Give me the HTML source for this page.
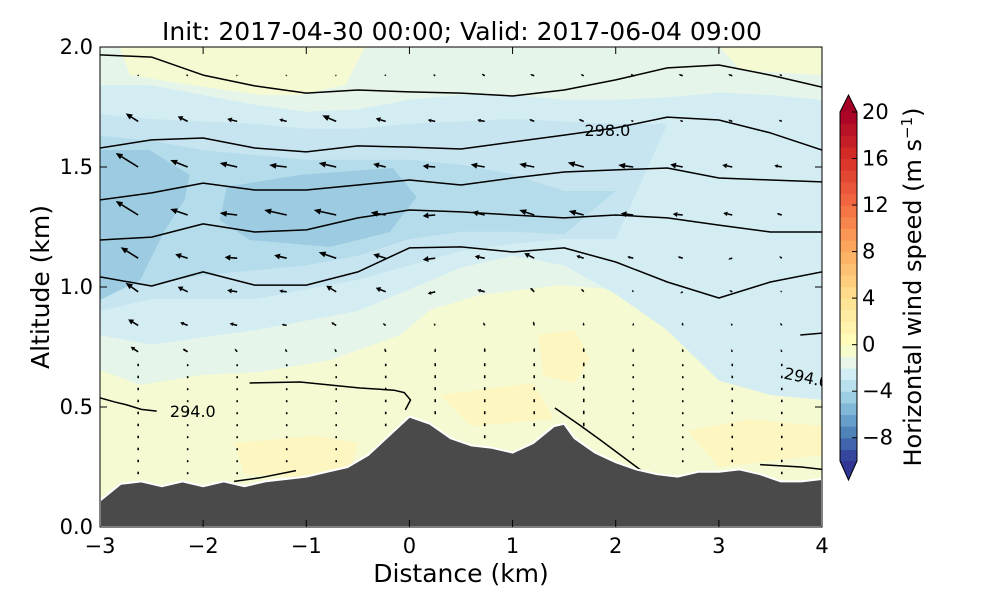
<!DOCTYPE html>
<html><head><meta charset="utf-8"><style>
body{margin:0;background:#fff;}
svg text{font-family:"DejaVu Sans","Liberation Sans",sans-serif;}
</style></head><body>
<svg id="c" width="1000" height="600" viewBox="0 0 1000 600" xmlns="http://www.w3.org/2000/svg">
<defs><clipPath id="pc"><rect x="100" y="47" width="722" height="480"/></clipPath></defs>
<rect width="1000" height="600" fill="#fff"/>
<g id="plot" clip-path="url(#pc)"></g>
<g id="axes"></g>
<g id="cbar"></g>
<text x="462" y="40" font-size="25" text-anchor="middle">Init: 2017-04-30 00:00; Valid: 2017-06-04 09:00</text>
<text x="461" y="582" font-size="25" text-anchor="middle">Distance (km)</text>
<text transform="translate(49,287) rotate(-90)" font-size="25" text-anchor="middle">Altitude (km)</text>
<text transform="translate(921,287) rotate(-90)" font-size="24" text-anchor="middle">Horizontal wind speed (m s<tspan dy="-9" font-size="15">−1</tspan><tspan dy="9">)</tspan></text>
</svg>
<script>
const knots=[-3,-2.5,-2,-1.5,-1,-0.5,0,0.5,1,1.5,2,2.5,3,3.5,4];
const band1Upper=[1.84,1.84,1.80,1.76,1.73,1.74,1.78,1.80,1.80,1.78,1.78,1.79,1.81,1.80,1.78];
const band1Lower=[0.80,0.76,0.79,0.82,0.86,0.90,0.99,1.08,1.13,1.09,0.97,0.82,0.61,0.55,0.53];
const band2Upper=[1.72,1.70,1.69,1.68,1.66,1.66,1.68,1.69,1.70,1.69,1.68,1.68,1.66,1.65,1.65];
const band2Lower=[0.90,0.95,0.95,0.95,0.99,1.03,1.09,1.15,1.18,1.20,1.20,1.68,1.66,1.65,1.65];
const band3Upper=[1.63,1.61,1.57,1.55,1.53,1.53,1.53,1.51,1.47,1.40,1.40,1.40,1.40,1.40,1.40];
const band3Lower=[0.99,1.01,1.05,1.07,1.09,1.13,1.20,1.23,1.23,1.22,1.40,1.40,1.40,1.40,1.40];
const yellowTopLeft=[[-3.0,2.0],[-2.81,2.0],[-2.71,1.883],[-2.13,1.842],[-1.45,1.80],[-1.06,1.80],[-0.62,1.842],[-0.43,2.0]];
const yellowTopRight=[[3.01,2.0],[3.21,1.904],[4,1.883],[4,2.0]];
const yellowBottom=[[-3,0.654],[-2.61,0.592],[-2.03,0.633],[-1.45,0.646],[-0.77,0.696],[-0.09,0.8],[0.2,0.904],[0.68,0.967],[1.46,1.008],[2.04,0.988],[2.53,0.946],[2.82,0.82],[3.11,0.633],[3.5,0.55],[4,0.529],[4,0],[-3,0]];
const yellowSpots=[[[1.25,0.8],[1.6,0.82],[1.75,0.7],[1.6,0.6],[1.3,0.63]],[[-1.7,0.35],[-0.9,0.38],[-0.5,0.35],[-0.6,0.2],[-1.6,0.22]],[[2.7,0.4],[3.3,0.45],[4,0.42],[4,0.3],[3.0,0.25]],[[0.3,0.55],[1.2,0.6],[1.4,0.45],[0.6,0.42]]];
const band4Left=[[-3,1.571],[-2.52,1.571],[-2.13,1.467],[-2.18,1.363],[-2.37,1.238],[-2.61,1.029],[-3,0.946]];
const band4Mid=[[-1.84,1.279],[-1.77,1.417],[-1.06,1.467],[-0.16,1.496],[0.07,1.375],[-0.19,1.229],[-0.77,1.167],[-1.55,1.196]];
const theta1=[1.967,1.958,1.883,1.838,1.808,1.821,1.813,1.808,1.796,1.821,1.863,1.913,1.925,1.883,1.833];
const theta2=[1.579,1.613,1.621,1.579,1.563,1.588,1.583,1.575,1.604,1.633,1.663,1.708,1.696,1.642,1.571];
const theta3=[1.363,1.392,1.433,1.404,1.404,1.425,1.446,1.425,1.454,1.479,1.488,1.496,1.454,1.446,1.438];
const theta4=[1.196,1.208,1.263,1.229,1.238,1.288,1.321,1.313,1.300,1.288,1.300,1.288,1.258,1.229,1.229];
const theta5=[1.042,1.004,1.063,1.008,1.008,1.063,1.163,1.167,1.146,1.163,1.104,1.021,0.954,1.021,1.063];
const thetaPieces=[[[-3,0.538],[-2.85,0.52],[-2.75,0.51],[-2.6,0.49],[-2.45,0.483]],[[-1.55,0.6],[-1.06,0.604],[-0.48,0.579],[-0.15,0.57],[-0.05,0.56],[0.01,0.529],[-0.04,0.488]],[[1.41,0.496],[1.65,0.425],[1.85,0.363],[2.24,0.238]],[[3.79,0.8],[4,0.808]],[[-1.7,0.19],[-1.45,0.205],[-1.1,0.235]],[[3.4,0.26],[3.8,0.25],[4,0.24]]];
const terrainX=[-3,-2.8,-2.6,-2.4,-2.2,-2,-1.8,-1.6,-1.4,-1.2,-1,-0.8,-0.6,-0.4,-0.2,0,0.2,0.4,0.6,0.8,1,1.2,1.4,1.5,1.6,1.8,2,2.2,2.4,2.6,2.8,3,3.2,3.4,3.6,3.8,4];
const terrainZ=[0.11,0.18,0.19,0.17,0.19,0.17,0.19,0.17,0.19,0.2,0.21,0.23,0.25,0.3,0.38,0.46,0.43,0.37,0.34,0.33,0.31,0.35,0.42,0.43,0.37,0.31,0.27,0.24,0.22,0.21,0.23,0.23,0.24,0.22,0.19,0.19,0.2];
const arrowCols=[-2.63,-2.15,-1.67,-1.19,-0.71,-0.23,0.25,0.73,1.21,1.69,2.17,2.65,3.13,3.61];
const arrowRows=[1.88,1.69,1.50,1.30,1.12,0.98,0.84,0.73];
const uRows=[
[0,-0.3,-0.2,-0.2,-0.2,-0.2,-0.4,-0.6,-0.8,-0.6,-0.5,-0.8,-0.8,-0.5],
[-2.5,-2,-2,-1.5,-2.8,-2,-1.5,-1.5,-1.0,-1.0,-0.5,-0.6,-0.8,-0.6],
[-4.5,-3.5,-3.5,-3.5,-3.5,-2.5,-2.5,-2.8,-3,-3.2,-3,-2.5,-2,-1.5],
[-4.5,-3.5,-3.5,-4.5,-4.5,-3,-2.5,-2.5,-3,-3,-2.5,-2,-1.8,-1],
[-3.5,-2.5,-2.5,-2.5,-3.5,-2.5,-2.5,-2,-2,-1.5,-1.2,-1,-0.8,-0.5],
[-2.5,-2,-2,-1.5,-2,-2,-1.5,-1.5,-0.8,-0.5,-0.2,-0.5,-0.6,-0.3],
[-2,-1.5,-1.5,-1,-1,-0.6,-0.3,-0.3,-0.2,-0.1,0,-0.1,-0.3,-0.3],
[-1.5,-1,-0.5,-0.3,-0.3,-0.2,0,0,0,0,0,0,-0.2,-0.2]];
const wRows=[
[0.3,0.3,0.2,0.2,0.2,0.3,0.3,0.4,0.3,0.3,0.4,0.3,0.3,0.3],
[1.6,1.0,0.5,0.4,1.2,0.6,0.3,0.3,0.4,0.4,0.2,0.2,0.3,0.3],
[2.8,1.4,0.8,0.4,0.8,0.6,0.2,0.5,0.6,0.9,0.4,0.5,0.4,0.3],
[2.8,1.2,0.4,1.0,1.0,0.5,-0.2,0.6,1.0,0.8,0.3,0.2,0.4,0.3],
[2.2,0.8,0.2,0.6,1.2,0.8,-0.3,0.4,1.0,0.5,0.3,0.3,-0.2,0.4],
[1.8,1.0,0.3,0.2,1.2,0.8,-0.4,0.4,0.8,0.6,0.4,-0.3,0.3,0.2],
[1.2,0.6,0.4,0.2,0.6,0.4,0.4,0.6,0.8,0.6,0.5,0.6,0.4,0.5],
[1.0,0.6,0.6,0.6,0.6,0.7,0.7,0.8,0.8,0.8,0.7,0.6,0.5,0.5]];
const dotRows=[0.67,0.62,0.57,0.52,0.47,0.42,0.37,0.32,0.27,0.22];
const dotW=[0.5,0.4,0.4,0.4,0.4,0.5,0.6,0.6,0.6,0.7,0.4,0.4,0.5,0.5];
const xTicks=[-3,-2,-1,0,1,2,3,4];
const yTicks=[0.0,0.5,1.0,1.5,2.0];
const cbTicks=[-8,-4,0,4,8,12,16,20];
const cbLevels=[-10,-9,-8,-7,-6,-5,-4,-3,-2,-1,0,1,2,3,4,5,6,7,8,9,10,11,12,13,14,15,16,17,18,19];
const contourLabels=[["298.0",1.92,1.65,0],["294.0",-2.1,0.48,0],["294.0",3.85,0.62,12]];

const NS="http://www.w3.org/2000/svg";
const X=k=>100+(k+3)*722/7, Y=z=>527-z*240;
function mk(tag,attrs,parent){const e=document.createElementNS(NS,tag);for(const k in attrs)e.setAttribute(k,attrs[k]);parent.appendChild(e);return e;}
const neg=["#313695","#4575b4","#74add1","#abd9e9","#e0f3f8","#ffffbf"];
const pos=["#ffffbf","#fee090","#fdae61","#f46d43","#d73027","#a50026"];
function hx(c){return [1,3,5].map(i=>parseInt(c.substr(i,2),16));}
function cmapRaw(v){let s,t;if(v<0){s=neg;t=(v+10)/10;}else{s=pos;t=v/20;}t=Math.max(0,Math.min(1,t))*(s.length-1);const i=Math.min(Math.floor(t),s.length-2),f=t-i;const a=hx(s[i]),b=hx(s[i+1]);return "rgb("+a.map((x,j)=>Math.round(x+(b[j]-x)*f)).join(",")+")";}
const fixed={"-4.5":"#9ccbe2","-3.5":"#b5dcea","-2.5":"#c6e5f0","-1.5":"#d4edf3","-0.5":"#e6f5ea","0.5":"#f5fad2","1.5":"#fdf6c0","2.5":"#feeaa4"};
function cmap(v){const k=String(v);return fixed[k]||cmapRaw(v);}
const plot=document.getElementById('plot'),axes=document.getElementById('axes'),cb=document.getElementById('cbar');
function polyPts(arr){return arr.map(p=>X(p[0]).toFixed(1)+","+Y(p[1]).toFixed(1)).join(" ");}
function bandPts(up,lo){const a=knots.map((k,i)=>[k,up[i]]),b=knots.map((k,i)=>[k,lo[i]]).reverse();return polyPts(a.concat(b));}
let e;
e=mk('rect',{x:100,y:47,width:722,height:480,fill:cmap(-0.5)},plot);

[yellowTopLeft,yellowTopRight,yellowBottom].forEach(p=>{e=mk('polygon',{points:polyPts(p),fill:cmap(0.5)},plot);
});
yellowSpots.forEach(p=>{e=mk('polygon',{points:polyPts(p),fill:cmap(1.5)},plot);
});
e=mk('polygon',{points:bandPts(band1Upper,band1Lower),fill:cmap(-1.5)},plot);

e=mk('polygon',{points:bandPts(band2Upper,band2Lower),fill:cmap(-2.5)},plot);

e=mk('polygon',{points:bandPts(band3Upper,band3Lower),fill:cmap(-3.5)},plot);

[band4Left,band4Mid].forEach(p=>{e=mk('polygon',{points:polyPts(p),fill:cmap(-4.5)},plot);
});
[theta1,theta2,theta3,theta4,theta5].forEach((t,i)=>{e=mk('polyline',{points:polyPts(knots.map((k,j)=>[k,t[j]])),fill:"none",stroke:"#000","stroke-width":1.5,"stroke-linejoin":"round"},plot);
});
thetaPieces.forEach(p=>{e=mk('polyline',{points:polyPts(p),fill:"none",stroke:"#000","stroke-width":1.5,"stroke-linejoin":"round"},plot);
});
contourLabels.forEach(c=>{e=mk('text',{x:X(c[1]),y:Y(c[2])+5,"font-size":16,"text-anchor":"middle",transform:`rotate(${c[3]} ${X(c[1])} ${Y(c[2])})`},plot);e.textContent=c[0];
});
function terrAt(x){for(let i=0;i<terrainX.length-1;i++){if(x<=terrainX[i+1]){const f=(x-terrainX[i])/(terrainX[i+1]-terrainX[i]);return terrainZ[i]+f*(terrainZ[i+1]-terrainZ[i]);}}return terrainZ[terrainZ.length-1];}
const S=5;
arrowRows.forEach((z,r)=>{arrowCols.forEach((x,c)=>{if(z<terrAt(x)+0.04)return;const u=uRows[r][c],w=wRows[r][c];const x0=X(x),y0=Y(z);const dx=u*S,dy=-w*S;const L=Math.hypot(dx,dy);if(L<0.5)return;const g=mk('g',{},plot);


const ux=dx/L,uy=dy/L,h=Math.min(7,L*0.45),hw=Math.min(3,L*0.25);
const bx=x0+dx-ux*h,by=y0+dy-uy*h;
mk('line',{x1:x0,y1:y0,x2:bx,y2:by,stroke:"#000","stroke-width":1.6},g);
mk('polygon',{points:`${x0+dx},${y0+dy} ${bx-uy*hw},${by+ux*hw} ${bx+uy*hw},${by-ux*hw}`,fill:"#000"},g);});});
dotRows.forEach(z=>{arrowCols.forEach((x,c)=>{if(z<terrAt(x)+0.03)return;const x0=X(x),y0=Y(z);
const d=mk('line',{x1:x0,y1:y0,x2:x0,y2:y0-dotW[c]*S,stroke:"#000","stroke-width":1.6},plot);

});});
const tp=terrainX.map((x,i)=>[x,terrainZ[i]]).concat([[4,0],[-3,0]]);
e=mk('polygon',{points:polyPts(tp),fill:"#4a4a4a",stroke:"#fff","stroke-width":2},plot);

e=mk('rect',{x:100,y:47,width:722,height:480,fill:"none",stroke:"#000","stroke-width":1},axes);

xTicks.forEach(t=>{const x=X(t);mk('line',{x1:x,y1:527,x2:x,y2:520,stroke:"#000"},axes);mk('line',{x1:x,y1:47,x2:x,y2:54,stroke:"#000"},axes);
e=mk('text',{x:x,y:553,"font-size":21,"text-anchor":"middle"},axes);e.textContent=(t<0?"−"+(-t):String(t));
});
yTicks.forEach(t=>{const y=Y(t);mk('line',{x1:100,y1:y,x2:107,y2:y,stroke:"#000"},axes);mk('line',{x1:822,y1:y,x2:815,y2:y,stroke:"#000"},axes);
e=mk('text',{x:93,y:y+7,"font-size":21,"text-anchor":"end"},axes);e.textContent=t.toFixed(1);
});
const CY=v=>461-(v+10)*(461-112)/30;
cbLevels.forEach(v=>{e=mk('rect',{x:840,y:CY(v+1),width:17,height:CY(v)-CY(v+1)+0.6,fill:cmapRaw(v+0.5)},cb);
});
e=mk('polygon',{points:`840,112 857,112 848.5,95`,fill:"#a50026"},cb);

e=mk('polygon',{points:`840,461 857,461 848.5,480`,fill:"#313695"},cb);

mk('polygon',{points:`840,112 848.5,95 857,112 857,461 848.5,480 840,461`,fill:"none",stroke:"#000","stroke-width":1},cb);
cbTicks.forEach(t=>{const y=CY(t);mk('line',{x1:852,y1:y,x2:857,y2:y,stroke:"#000"},cb);
e=mk('text',{x:862,y:y+7,"font-size":21},cb);e.textContent=(t<0?"−"+(-t):String(t));
});
</script>
</body></html>
